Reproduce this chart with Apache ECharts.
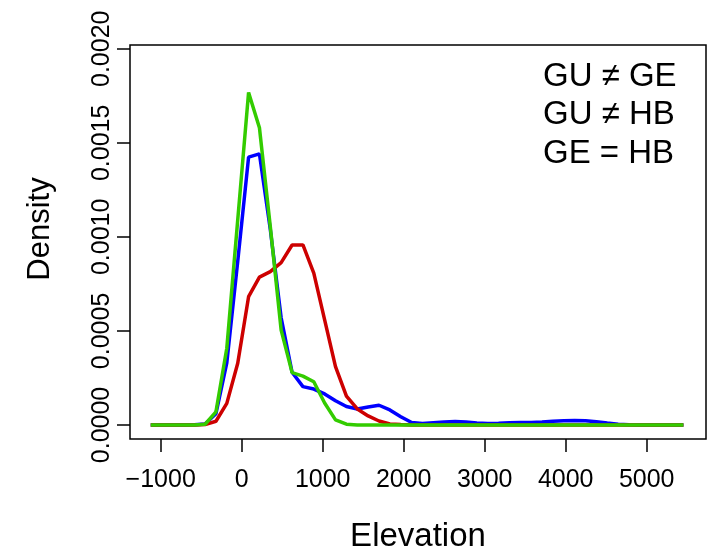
<!DOCTYPE html>
<html><head><meta charset="utf-8">
<script src="https://cdn.jsdelivr.net/npm/echarts@6/dist/echarts.min.js"></script>
<style>html,body{margin:0;padding:0;background:#fff}#c{width:715px;height:556px}</style>
</head><body><div id="c"></div>
<script>
const elevation = [-1123,-989,-855,-720,-586,-452,-318,-184,-49,85,219,353,487,622,756,890,1024,1158,1293,1427,1561,1695,1829,1964,2098,2232,2366,2500,2635,2769,2903,3037,3171,3306,3440,3574,3708,3842,3977,4111,4245,4379,4513,4648,4782,4916,5050,5184,5319,5453];
const densityGU = [0,0,0,0,0.000001,0.000005,0.00006,0.00033,0.00087,0.001424,0.001441,0.00104,0.00057,0.00028,0.000204,0.000191,0.000165,0.000129,0.000098,0.000085,0.000096,0.000105,0.00008,0.000044,0.000013,0.000008,0.000012,0.000016,0.000018,0.000016,0.000011,0.000008,0.000009,0.000012,0.000013,0.000013,0.000016,0.00002,0.000023,0.000024,0.000022,0.000017,0.00001,0.000004,0.000001,0,0,0,0,0];
const densityGE = [0,0,0,0,0,0.000002,0.00002,0.000115,0.000328,0.000682,0.000786,0.000815,0.000863,0.000957,0.000957,0.000807,0.000559,0.00031,0.000154,0.000085,0.000048,0.000021,0.000005,0.000002,0,0,0,0,0,0,0,0,0,0,0,0,0,0,0,0,0,0,0,0,0,0,0,0,0,0];
const densityHB = [0,0,0,0,0,0.000004,0.00007,0.000408,0.00109,0.001768,0.00158,0.001055,0.000505,0.000278,0.00026,0.00023,0.000117,0.000027,0.000004,0,0,0,0,0,0,0,0,0,0,0,0,0,0,0,0,0,0,0,0,0,0,0,0,0,0,0,0,0,0,0];
const xTicks = [-1000,0,1000,2000,3000,4000,5000];
const yTicks = [0,0.0005,0.001,0.0015,0.002];
const legendLines = ['GU \u2260 GE','GU \u2260 HB','GE = HB'];

const chart = echarts.init(document.getElementById('c'), null, {renderer:'canvas'});
const font = 'Liberation Sans, Arial, sans-serif';
function mk(data, color){
  return {type:'line', data: elevation.map((x,i)=>[x,data[i]]), showSymbol:false, symbol:'none',
    lineStyle:{color:color, width:3.5}, itemStyle:{color:color}, animation:false, z:2};
}
chart.setOption({
  animation:false,
  backgroundColor:'#fff',
  grid:{left:130, right:9, top:45, bottom:117, show:true, outerBoundsMode:'none', containLabel:false,
    borderColor:'#000', borderWidth:1.5, backgroundColor:'transparent'},
  xAxis:{type:'value', min:-1379, max:5732, name:'Elevation', nameLocation:'middle', nameGap:81,
    nameTextStyle:{fontFamily:font, fontSize:33, color:'#000'},
    axisLine:{show:false, onZero:false}, splitLine:{show:false},
    axisTick:{show:true, length:13, inside:false, customValues:xTicks, lineStyle:{color:'#000', width:1.5}},
    axisLabel:{customValues:xTicks, fontFamily:font, fontSize:25, color:'#000', margin:29,
      formatter:v=> v<0 ? '\u2212'+Math.abs(v) : String(v)}},
  yAxis:{type:'value', min:-0.0000745, max:0.00202,
    axisLine:{show:false, onZero:false}, splitLine:{show:false},
    axisTick:{show:true, length:13, customValues:yTicks, lineStyle:{color:'#000', width:1.5}},
    axisLabel:{customValues:yTicks, rotate:90, fontFamily:font, fontSize:25, color:'#000', margin:15,
      formatter:v=> v.toFixed(4)}},
  graphic: legendLines.map((t,i)=>({type:'text', left:543, top:60+i*38.5,
    style:{text:t, fontFamily:font, fontSize:33, fill:'#000'}})).concat([
    {type:'text', x:40, y:229, rotation:Math.PI/2,
      style:{text:'Density', fontFamily:font, fontSize:31, fill:'#000', align:'center', verticalAlign:'middle'}}]),
  series:[mk(densityGU,'#0000ff'), mk(densityGE,'#cd0000'), mk(densityHB,'#33cc00')]
});
</script></body></html>
